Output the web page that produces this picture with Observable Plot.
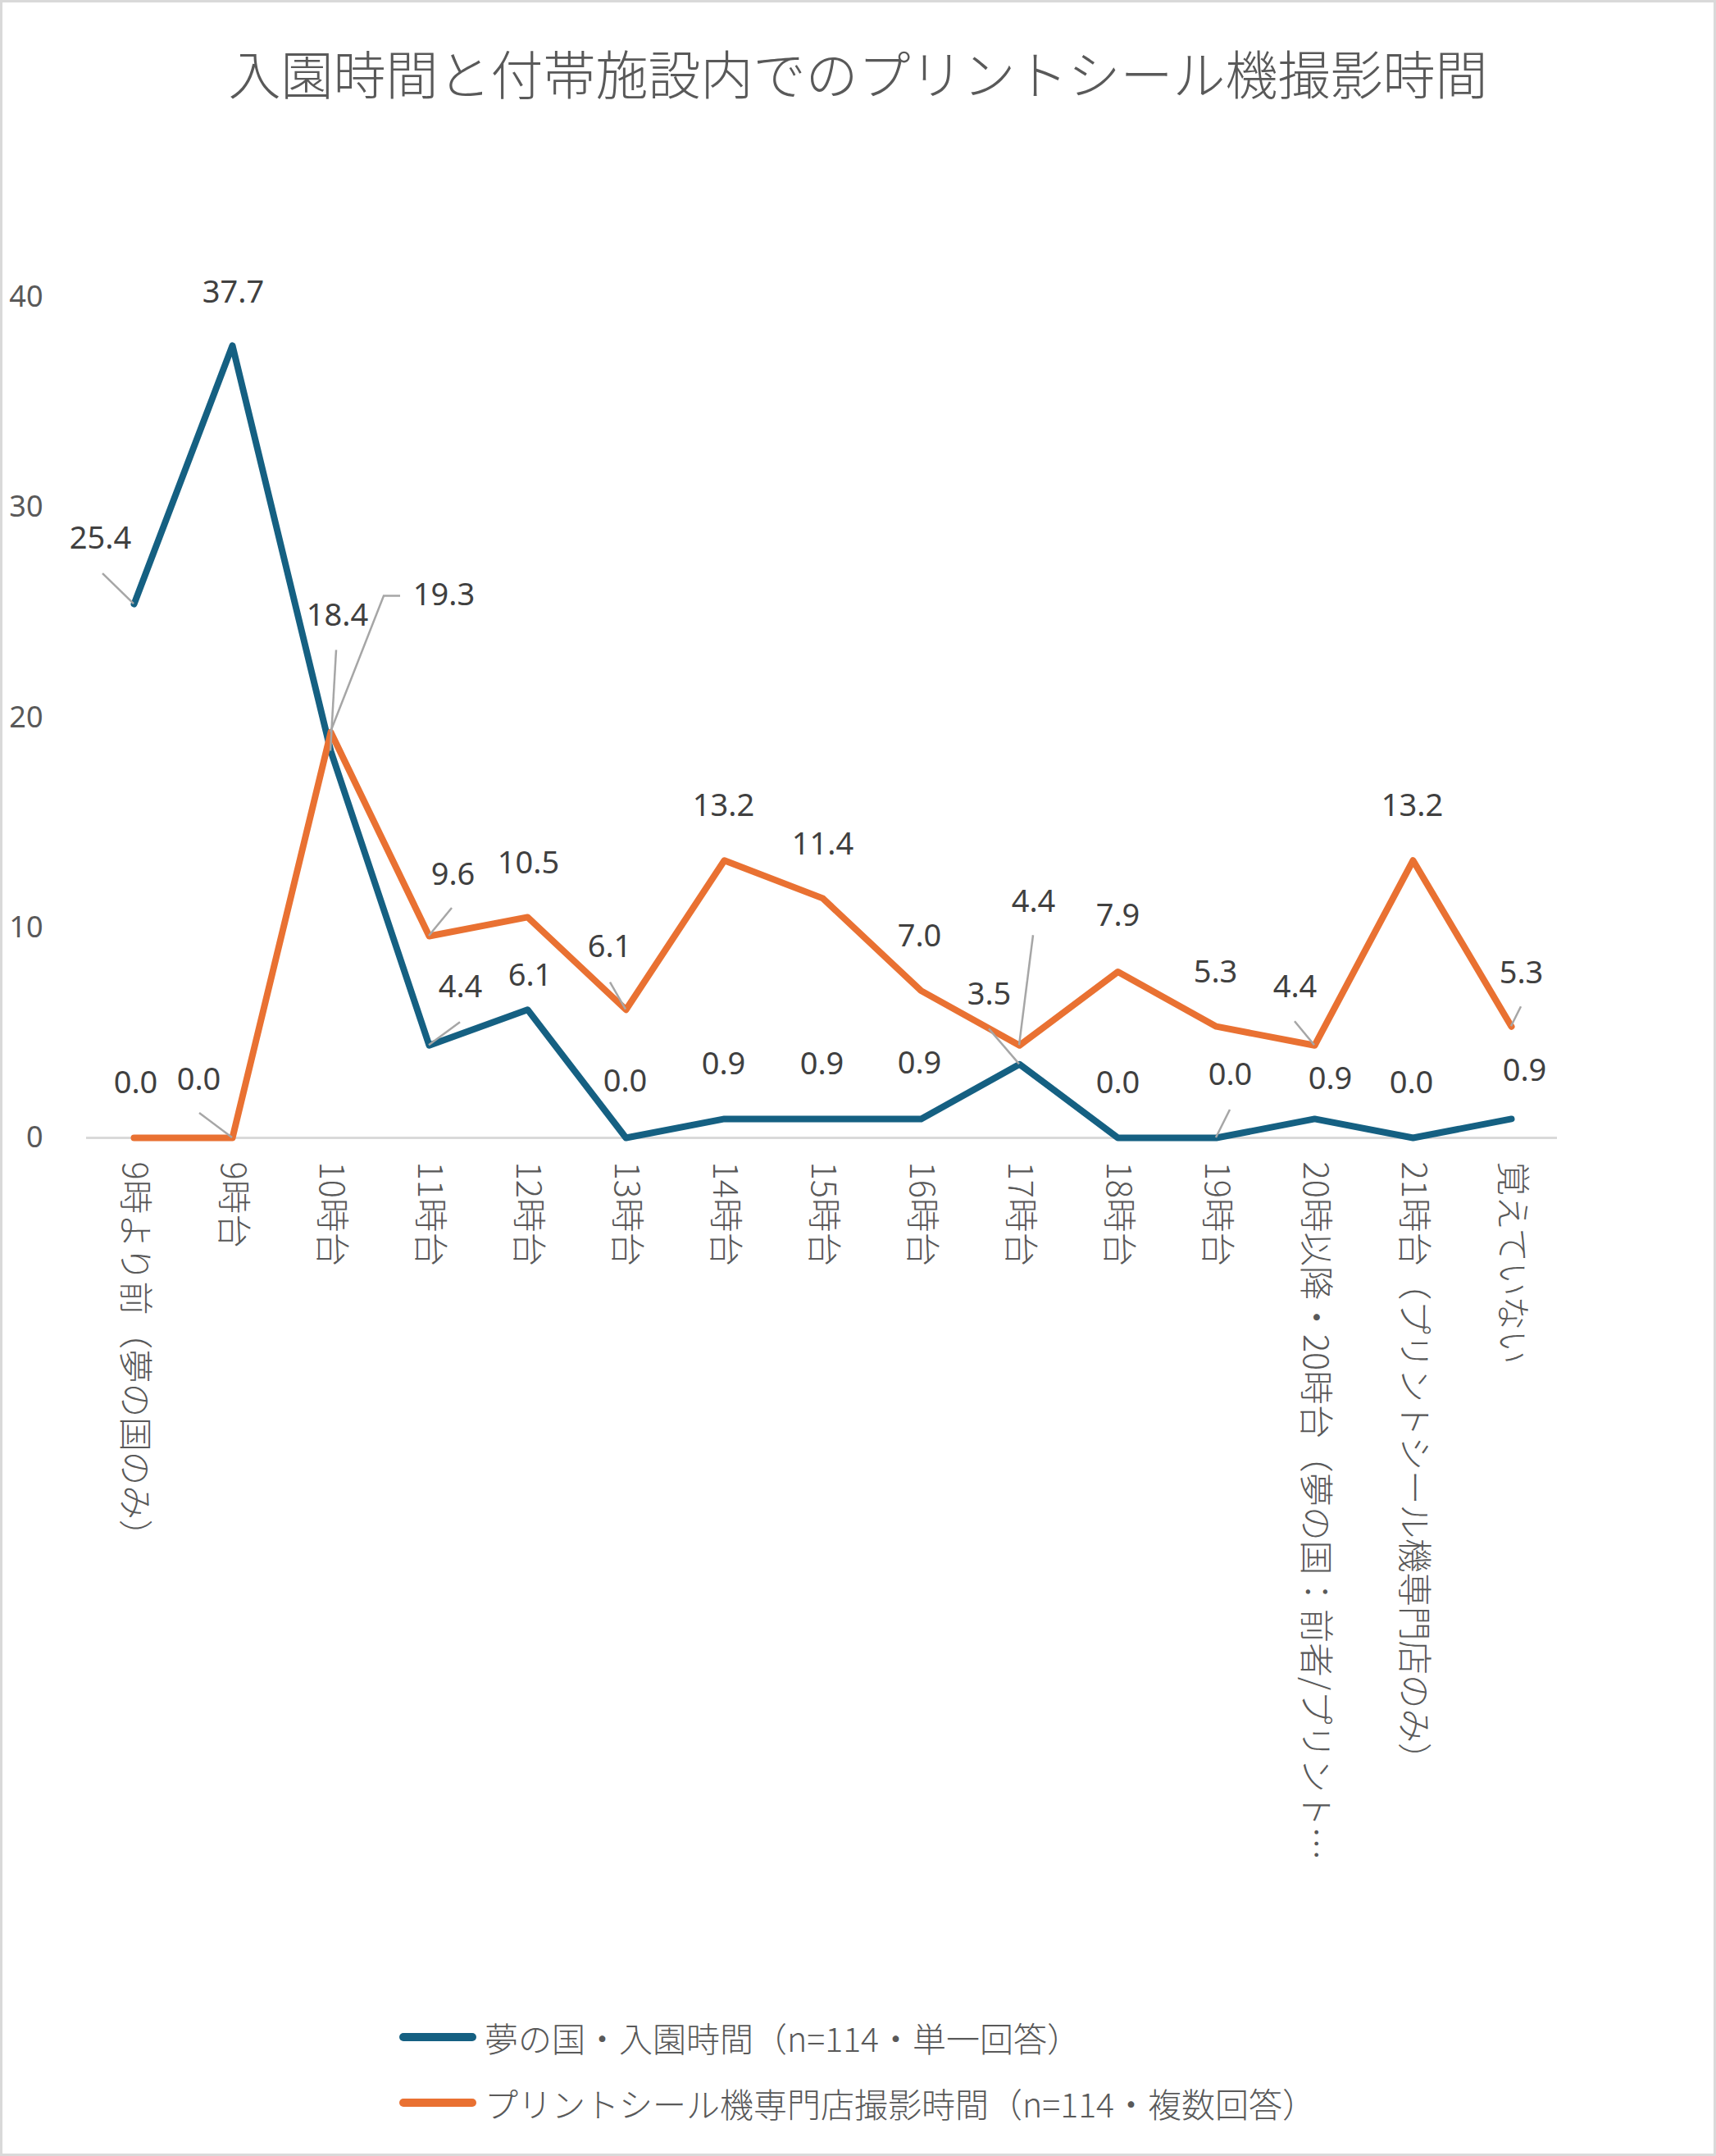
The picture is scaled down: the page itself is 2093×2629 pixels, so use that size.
<!DOCTYPE html>
<html>
<head>
<meta charset="utf-8">
<script src="https://cdn.jsdelivr.net/npm/d3@7"></script>
<script src="https://cdn.jsdelivr.net/npm/@observablehq/plot@0.6"></script>
<style>
  body { margin: 0; background: #fff; }
  #chart { position: relative; width: 2093px; height: 2629px; background: #fff;
    box-shadow: inset 0 0 0 3px #d9d9d9; overflow: hidden;
    font-family: "Noto Sans CJK JP Light", "Noto Sans CJK JP DemiLight", "Noto Sans CJK JP", "Noto Sans", sans-serif; color: #595959; }
  #title { position: absolute; left: 0; top: 0; width: 100%; height: 300px; text-align: center;
    font-size: 64px; line-height: 174px; font-weight: 300; white-space: nowrap; }
  #plot { position: absolute; left: 0; top: 300px; }
  #legend { position: absolute; left: 487px; top: 2444px; font-size: 41px; font-weight: 300; }
  .row { display: flex; align-items: center; height: 80px; white-space: nowrap; }
  .sw { display: inline-block; width: 94px; height: 10px; border-radius: 5px; margin-right: 10px; }
</style>
</head>
<body>
<div id="chart">
  <div id="title"></div>
  <div id="plot"></div>
  <div id="legend"></div>
</div>
<script>
// ---- data ----
const chartTitle = "入園時間と付帯施設内でのプリントシール機撮影時間";
const categories = [
  "9時より前（夢の国のみ）", "9時台", "10時台", "11時台", "12時台", "13時台", "14時台",
  "15時台", "16時台", "17時台", "18時台", "19時台",
  "20時以降・20時台（夢の国：前者/プリント…", "21時台（プリントシール機専門店のみ）", "覚えていない"
];
const yumeValues  = [25.4, 37.7, 18.4, 4.4, 6.1, 0.0, 0.9, 0.9, 0.9, 3.5, 0.0, 0.0, 0.9, 0.0, 0.9];
const printValues = [0.0, 0.0, 19.3, 9.6, 10.5, 6.1, 13.2, 11.4, 7.0, 4.4, 7.9, 5.3, 4.4, 13.2, 5.3];
const seriesNames = ["夢の国・入園時間（n=114・単一回答）", "プリントシール機専門店撮影時間（n=114・複数回答）"];
const seriesColors = ["#156082", "#E97132"];
const yTicks = [0, 10, 20, 30, 40];

// ---- label layout (pixel offsets from each point) ----
const yumeLabelOffsets  = [[-41,-80],[1,-65],[8,-165],[38,-71],[3,-41],[-1,-69],[-1,-67],[-1,-67],[-2,-68],[-37,-85],[0,-67],[17,-77],[19,-49],[-2,-67],[16,-59]];
const printLabelOffsets = [[2,-67],[-41,-71],[138,-167],[29,-75],[1,-66],[-20,-76],[-1,-66],[0,-66],[-2,-66],[17,-175],[0,-68],[-1,-66],[-24,-71],[-1,-66],[12,-65]];
const yumeLeaders  = {0: [[-38,-37]], 2: [[7,-123]], 3: [[38,-28]], 9: [[-37,-43]], 11: [[17,-34]]};
const printLeaders = {1: [[-40,-30]], 2: [[65,-166],[85,-166]], 3: [[28,-34]], 5: [[-19,-33]], 9: [[17,-134]], 12: [[-24,-29]], 14: [[12,-24]]};

// ---- build ----
document.getElementById("title").textContent = chartTitle;

const toRows = (vals, name) => categories.map((c, i) => ({cat: c, value: vals[i], series: name}));
const yumeRows = toRows(yumeValues, seriesNames[0]);
const printRows = toRows(printValues, seriesNames[1]);
const fmt = d3.format(".1f");
const numFont = "'Noto Sans', 'Noto Sans CJK JP', sans-serif";
const cjkFont = "'Noto Sans CJK JP Light', 'Noto Sans CJK JP DemiLight', 'Noto Sans CJK JP', sans-serif";

function labelMarks(rows, offsets) {
  return rows.map((r, i) => Plot.text([r], {
    x: "cat", y: "value", text: d => fmt(d.value),
    dx: offsets[i][0], dy: offsets[i][1],
    fill: "#404040", fontSize: 38, fontFamily: numFont, lineAnchor: "middle", textAnchor: "middle"
  }));
}

function leaderMark(values, leaders) {
  return (index, scales) => {
    const g = d3.create("svg:g");
    for (const [k, pts] of Object.entries(leaders)) {
      const i = +k;
      const x0 = scales.x(categories[i]), y0 = scales.y(values[i]);
      const p = d3.path();
      p.moveTo(x0, y0);
      for (const [dx, dy] of pts) p.lineTo(x0 + dx, y0 + dy);
      g.append("path").attr("d", p.toString()).attr("fill", "none")
        .attr("stroke", "#a6a6a6").attr("stroke-width", 2.5);
    }
    return g.node();
  };
}

const plot = Plot.plot({
  width: 2093,
  height: 2000,
  marginLeft: 103,
  marginRight: 190,
  marginTop: 62,
  marginBottom: 913,
  style: {color: "#595959", fontFamily: cjkFont, background: "transparent"},
  x: {type: "point", domain: categories, padding: 0.5},
  y: {domain: [0, 40]},
  marks: [
    Plot.ruleY([0], {stroke: "#d9d9d9", strokeWidth: 3, insetLeft: 2, insetRight: 4}),
    Plot.axisY({ticks: yTicks, tickSize: 0, tickPadding: 51, fontSize: 36, fontFamily: numFont, label: null, tickFormat: d3.format("d")}),
    Plot.axisX({tickRotate: 90, tickSize: 0, tickPadding: 29, fontSize: 41.5, fontFamily: cjkFont, label: null, fontWeight: 300}),
    Plot.line(yumeRows, {x: "cat", y: "value", stroke: seriesColors[0], strokeWidth: 8, strokeLinecap: "round", strokeLinejoin: "round"}),
    Plot.line(printRows, {x: "cat", y: "value", stroke: seriesColors[1], strokeWidth: 8, strokeLinecap: "round", strokeLinejoin: "round"}),
    leaderMark(yumeValues, yumeLeaders),
    leaderMark(printValues, printLeaders),
    ...labelMarks(yumeRows, yumeLabelOffsets),
    ...labelMarks(printRows, printLabelOffsets)
  ]
});
document.getElementById("plot").appendChild(plot);

const legend = d3.select("#legend");
seriesNames.forEach((name, i) => {
  const row = legend.append("div").attr("class", "row");
  row.append("span").attr("class", "sw").style("background", seriesColors[i]);
  row.append("span").text(name);
});
</script>
</body>
</html>
